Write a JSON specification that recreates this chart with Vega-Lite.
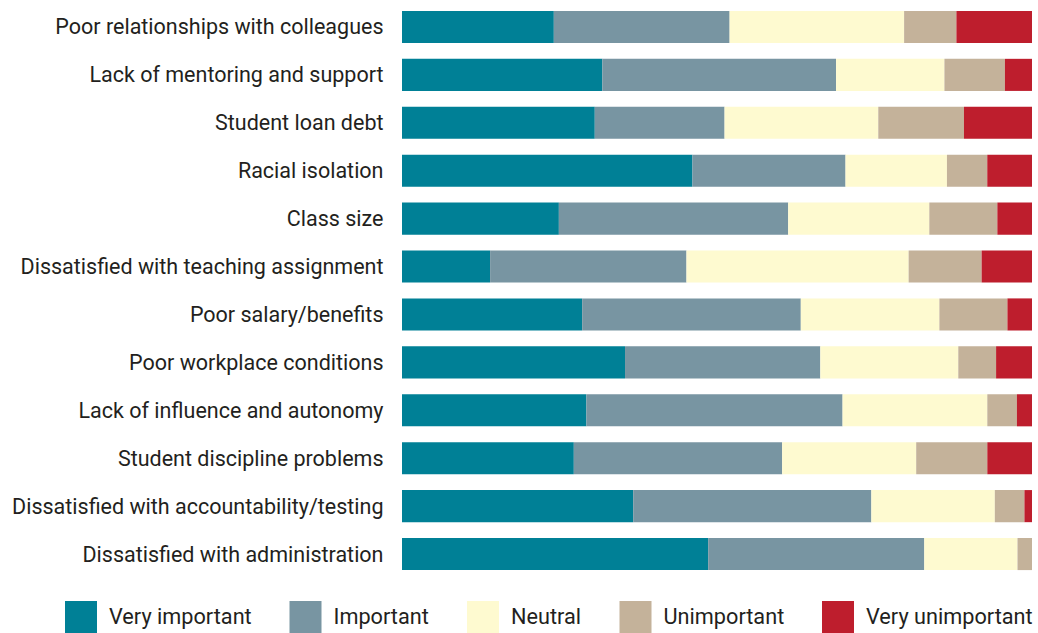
{
  "$schema": "https://vega.github.io/schema/vega-lite/v6.json",
  "autosize": "none",
  "width": 630,
  "height": 575,
  "padding": {"left": 402, "top": 3, "right": 6, "bottom": 55},
  "background": "white",
  "config": {"view": {"stroke": null}, "font": "Roboto"},
  "data": {"values": [
    {"issue": "Poor relationships with colleagues", "response": "Very important", "k": 1, "pct": 24.1},
    {"issue": "Poor relationships with colleagues", "response": "Important", "k": 2, "pct": 27.9},
    {"issue": "Poor relationships with colleagues", "response": "Neutral", "k": 3, "pct": 27.7},
    {"issue": "Poor relationships with colleagues", "response": "Unimportant", "k": 4, "pct": 8.3},
    {"issue": "Poor relationships with colleagues", "response": "Very unimportant", "k": 5, "pct": 12.0},
    {"issue": "Lack of mentoring and support", "response": "Very important", "k": 1, "pct": 31.8},
    {"issue": "Lack of mentoring and support", "response": "Important", "k": 2, "pct": 37.1},
    {"issue": "Lack of mentoring and support", "response": "Neutral", "k": 3, "pct": 17.2},
    {"issue": "Lack of mentoring and support", "response": "Unimportant", "k": 4, "pct": 9.6},
    {"issue": "Lack of mentoring and support", "response": "Very unimportant", "k": 5, "pct": 4.3},
    {"issue": "Student loan debt", "response": "Very important", "k": 1, "pct": 30.6},
    {"issue": "Student loan debt", "response": "Important", "k": 2, "pct": 20.6},
    {"issue": "Student loan debt", "response": "Neutral", "k": 3, "pct": 24.4},
    {"issue": "Student loan debt", "response": "Unimportant", "k": 4, "pct": 13.6},
    {"issue": "Student loan debt", "response": "Very unimportant", "k": 5, "pct": 10.8},
    {"issue": "Racial isolation", "response": "Very important", "k": 1, "pct": 46.1},
    {"issue": "Racial isolation", "response": "Important", "k": 2, "pct": 24.3},
    {"issue": "Racial isolation", "response": "Neutral", "k": 3, "pct": 16.1},
    {"issue": "Racial isolation", "response": "Unimportant", "k": 4, "pct": 6.4},
    {"issue": "Racial isolation", "response": "Very unimportant", "k": 5, "pct": 7.1},
    {"issue": "Class size", "response": "Very important", "k": 1, "pct": 24.9},
    {"issue": "Class size", "response": "Important", "k": 2, "pct": 36.4},
    {"issue": "Class size", "response": "Neutral", "k": 3, "pct": 22.4},
    {"issue": "Class size", "response": "Unimportant", "k": 4, "pct": 10.8},
    {"issue": "Class size", "response": "Very unimportant", "k": 5, "pct": 5.5},
    {"issue": "Dissatisfied with teaching assignment", "response": "Very important", "k": 1, "pct": 14.0},
    {"issue": "Dissatisfied with teaching assignment", "response": "Important", "k": 2, "pct": 31.2},
    {"issue": "Dissatisfied with teaching assignment", "response": "Neutral", "k": 3, "pct": 35.3},
    {"issue": "Dissatisfied with teaching assignment", "response": "Unimportant", "k": 4, "pct": 11.6},
    {"issue": "Dissatisfied with teaching assignment", "response": "Very unimportant", "k": 5, "pct": 8.0},
    {"issue": "Poor salary/benefits", "response": "Very important", "k": 1, "pct": 28.6},
    {"issue": "Poor salary/benefits", "response": "Important", "k": 2, "pct": 34.7},
    {"issue": "Poor salary/benefits", "response": "Neutral", "k": 3, "pct": 22.0},
    {"issue": "Poor salary/benefits", "response": "Unimportant", "k": 4, "pct": 10.8},
    {"issue": "Poor salary/benefits", "response": "Very unimportant", "k": 5, "pct": 3.9},
    {"issue": "Poor workplace conditions", "response": "Very important", "k": 1, "pct": 35.4},
    {"issue": "Poor workplace conditions", "response": "Important", "k": 2, "pct": 31.0},
    {"issue": "Poor workplace conditions", "response": "Neutral", "k": 3, "pct": 21.9},
    {"issue": "Poor workplace conditions", "response": "Unimportant", "k": 4, "pct": 6.0},
    {"issue": "Poor workplace conditions", "response": "Very unimportant", "k": 5, "pct": 5.7},
    {"issue": "Lack of influence and autonomy", "response": "Very important", "k": 1, "pct": 29.3},
    {"issue": "Lack of influence and autonomy", "response": "Important", "k": 2, "pct": 40.7},
    {"issue": "Lack of influence and autonomy", "response": "Neutral", "k": 3, "pct": 23.0},
    {"issue": "Lack of influence and autonomy", "response": "Unimportant", "k": 4, "pct": 4.7},
    {"issue": "Lack of influence and autonomy", "response": "Very unimportant", "k": 5, "pct": 2.4},
    {"issue": "Student discipline problems", "response": "Very important", "k": 1, "pct": 27.3},
    {"issue": "Student discipline problems", "response": "Important", "k": 2, "pct": 33.1},
    {"issue": "Student discipline problems", "response": "Neutral", "k": 3, "pct": 21.3},
    {"issue": "Student discipline problems", "response": "Unimportant", "k": 4, "pct": 11.3},
    {"issue": "Student discipline problems", "response": "Very unimportant", "k": 5, "pct": 7.1},
    {"issue": "Dissatisfied with accountability/testing", "response": "Very important", "k": 1, "pct": 36.7},
    {"issue": "Dissatisfied with accountability/testing", "response": "Important", "k": 2, "pct": 37.8},
    {"issue": "Dissatisfied with accountability/testing", "response": "Neutral", "k": 3, "pct": 19.6},
    {"issue": "Dissatisfied with accountability/testing", "response": "Unimportant", "k": 4, "pct": 4.7},
    {"issue": "Dissatisfied with accountability/testing", "response": "Very unimportant", "k": 5, "pct": 1.2},
    {"issue": "Dissatisfied with administration", "response": "Very important", "k": 1, "pct": 48.6},
    {"issue": "Dissatisfied with administration", "response": "Important", "k": 2, "pct": 34.3},
    {"issue": "Dissatisfied with administration", "response": "Neutral", "k": 3, "pct": 14.8},
    {"issue": "Dissatisfied with administration", "response": "Unimportant", "k": 4, "pct": 2.3},
    {"issue": "Dissatisfied with administration", "response": "Very unimportant", "k": 5, "pct": 0.0}
  ]},
  "mark": {"type": "bar"},
  "encoding": {
    "y": {
      "field": "issue", "type": "nominal", "sort": null,
      "scale": {"paddingInner": 0.33, "paddingOuter": 0.165},
      "axis": {"title": null, "domain": false, "ticks": false, "labelFontSize": 21.5, "labelPadding": 19, "labelOffset": 1.5, "labelLimit": 0, "labelColor": "#231f20", "labelFont": "Roboto"}
    },
    "x": {
      "field": "pct", "type": "quantitative", "stack": "normalize",
      "scale": {"domain": [0, 1], "nice": false, "zero": true},
      "axis": null
    },
    "order": {"field": "k", "type": "quantitative"},
    "color": {
      "field": "response", "type": "nominal",
      "scale": {
        "domain": ["Very important", "Important", "Neutral", "Unimportant", "Very unimportant"],
        "range": ["#008096", "#7895a2", "#fefad0", "#c4b29a", "#be1e2d"]
      },
      "legend": {
        "title": null, "orient": "none", "direction": "horizontal",
        "legendX": -337, "legendY": 598,
        "symbolType": "square", "symbolSize": 1024, "symbolStrokeWidth": 0, "symbolOpacity": 1,
        "labelFontSize": 21.7, "labelOffset": 12, "columnPadding": 37.5, "labelColor": "#231f20",
        "labelFont": "Roboto", "labelLimit": 0, "padding": 0
      }
    }
  }
}
